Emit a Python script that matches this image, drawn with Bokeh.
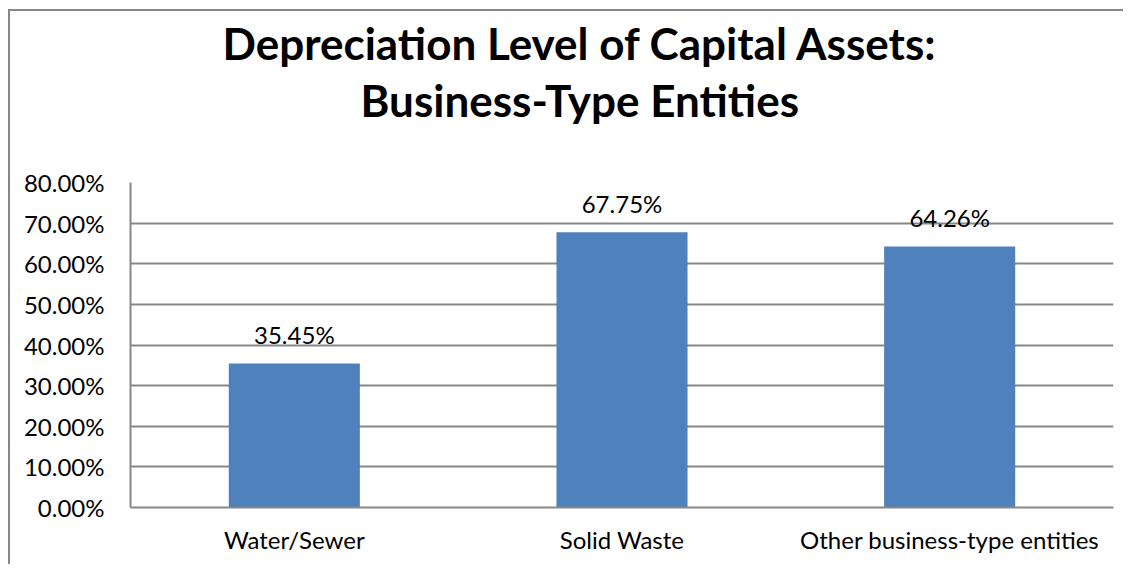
from bokeh.plotting import figure
from bokeh.models import (ColumnDataSource, LabelSet, Title, NumeralTickFormatter,
                          FixedTicker, Range1d, FactorRange)
from bokeh.core.properties import value
from bokeh.embed import file_html
from bokeh.resources import INLINE

categories = ["Water/Sewer", "Solid Waste", "Other business-type entities"]
values = [0.3545, 0.6775, 0.6426]
value_labels = ["35.45%", "67.75%", "64.26%"]
y_ticks = [0.0, 0.1, 0.2, 0.3, 0.4, 0.5, 0.6, 0.7, 0.8]
title_lines = ["Depreciation Level of Capital Assets:", "Business-Type Entities"]

FONT = "Lato"
GRID = "#878787"

src = ColumnDataSource(dict(cat=categories, val=values, lab=value_labels))

# figure sits inside an outer chart border (left + top) drawn with CSS
p = figure(width=1115, height=555, x_range=FactorRange(*categories, range_padding=0),
           y_range=Range1d(0, 0.8), output_backend="svg", toolbar_location=None,
           min_border_left=120, min_border_right=12, min_border_top=0,
           min_border_bottom=59,
           styles={"margin-left": "8px", "margin-top": "9px",
                   "border-left": f"2px solid {GRID}",
                   "border-top": f"2px solid {GRID}",
                   "border-right": "none", "border-bottom": "none"})
p.outline_line_color = None
p.background_fill_color = "white"
p.border_fill_color = "white"

# title block: p.title is outermost; added Titles stack outward from the frame
p.title.text = title_lines[0]
p.title.align = "left"
p.title.offset = 92
p.title.standoff = 6
p.title.text_font = FONT
p.title.text_font_style = "bold"
p.title.text_font_size = "44px"
p.title.text_color = "black"
# blank spacer directly above the plot frame
p.add_layout(Title(text=" ", standoff=42, text_font=FONT,
                   text_font_size="10px"), "above")
# second title line, above the spacer
p.add_layout(Title(text=title_lines[1], align="left", offset=230, standoff=1,
                   text_font=FONT, text_font_style="bold",
                   text_font_size="44px", text_color="black"), "above")

p.vbar(x="cat", top="val", width=0.4, source=src, fill_color="#4F81BD",
       line_color=None)

p.add_layout(LabelSet(x="cat", y="val", text="lab", source=src, y_offset=19,
                      text_align="center", text_baseline="alphabetic",
                      text_font=value(FONT), text_font_size=value("24px"),
                      text_color=value("black")))

p.yaxis.ticker = FixedTicker(ticks=y_ticks)
p.yaxis.formatter = NumeralTickFormatter(format="0.00%")
p.yaxis.major_tick_line_color = None
p.yaxis.minor_tick_line_color = None
p.yaxis.axis_line_color = GRID
p.yaxis.axis_line_width = 2
p.yaxis.major_label_text_font = FONT
p.yaxis.major_label_text_font_size = "24px"
p.yaxis.major_label_text_color = "black"
p.yaxis.major_label_standoff = 20

p.xaxis.major_tick_line_color = None
p.xaxis.minor_tick_line_color = None
p.xaxis.axis_line_color = GRID
p.xaxis.axis_line_width = 2
p.xaxis.major_label_text_font = FONT
p.xaxis.major_label_text_font_size = "24px"
p.xaxis.major_label_text_color = "black"
p.xaxis.major_label_standoff = 11

p.xgrid.grid_line_color = None
p.ygrid.ticker = FixedTicker(ticks=y_ticks)
p.ygrid.grid_line_color = GRID
p.ygrid.grid_line_width = 2

open("out.html", "w").write(file_html(p, INLINE))
